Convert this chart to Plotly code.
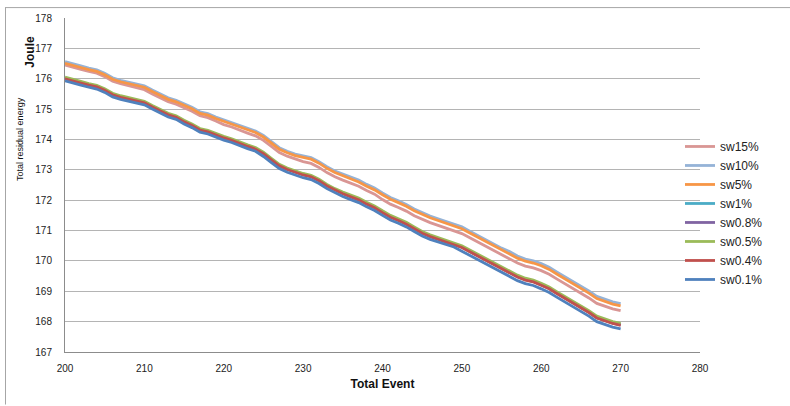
import plotly.graph_objects as go

# Event index (x axis)
events = list(range(200, 271))

# Total residual energy (Joule) per sleep/wake setting
sw15 = [176.45, 176.37, 176.31, 176.24, 176.18, 176.07, 175.92, 175.84, 175.78, 175.72,
        175.64, 175.50, 175.36, 175.24, 175.16, 175.05, 174.93, 174.78, 174.72, 174.61,
        174.49, 174.41, 174.30, 174.21, 174.12, 173.97, 173.77, 173.57, 173.45, 173.36,
        173.27, 173.21, 173.08, 172.91, 172.77, 172.66, 172.56, 172.46, 172.32, 172.20,
        172.02, 171.87, 171.76, 171.64, 171.49, 171.37, 171.26, 171.17, 171.08, 171.01,
        170.90, 170.76, 170.62, 170.48, 170.34, 170.20, 170.08, 169.93, 169.83, 169.77,
        169.68, 169.56, 169.40, 169.25, 169.10, 168.95, 168.78, 168.60, 168.50, 168.42,
        168.36]
sw10 = [176.56, 176.48, 176.42, 176.35, 176.29, 176.18, 176.03, 175.95, 175.89, 175.83,
        175.77, 175.63, 175.49, 175.37, 175.29, 175.18, 175.06, 174.91, 174.85, 174.74,
        174.65, 174.57, 174.46, 174.37, 174.28, 174.13, 173.93, 173.73, 173.61, 173.52,
        173.46, 173.40, 173.27, 173.10, 172.96, 172.86, 172.76, 172.66, 172.52, 172.40,
        172.24, 172.09, 171.98, 171.86, 171.71, 171.59, 171.48, 171.39, 171.30, 171.23,
        171.12, 170.98, 170.84, 170.70, 170.56, 170.42, 170.31, 170.16, 170.06, 170.00,
        169.91, 169.79, 169.63, 169.48, 169.33, 169.18, 169.01, 168.83, 168.73, 168.65,
        168.59]
sw5 = [176.51, 176.43, 176.37, 176.30, 176.24, 176.13, 175.98, 175.90, 175.84, 175.78,
       175.72, 175.58, 175.44, 175.32, 175.24, 175.13, 175.01, 174.86, 174.80, 174.69,
       174.60, 174.52, 174.41, 174.32, 174.23, 174.08, 173.88, 173.68, 173.56, 173.47,
       173.41, 173.35, 173.22, 173.05, 172.91, 172.80, 172.70, 172.60, 172.46, 172.34,
       172.18, 172.03, 171.92, 171.80, 171.65, 171.53, 171.42, 171.33, 171.24, 171.17,
       171.06, 170.92, 170.78, 170.64, 170.50, 170.36, 170.24, 170.09, 169.99, 169.93,
       169.84, 169.72, 169.56, 169.41, 169.26, 169.11, 168.94, 168.76, 168.66, 168.58,
       168.52]
sw1 = [176.02, 175.94, 175.88, 175.81, 175.75, 175.64, 175.49, 175.41, 175.35, 175.29,
       175.23, 175.09, 174.95, 174.83, 174.75, 174.60, 174.48, 174.33, 174.27, 174.16,
       174.07, 173.99, 173.88, 173.79, 173.70, 173.55, 173.35, 173.15, 173.03, 172.94,
       172.85, 172.79, 172.66, 172.49, 172.35, 172.23, 172.13, 172.03, 171.89, 171.77,
       171.61, 171.46, 171.35, 171.23, 171.08, 170.93, 170.82, 170.73, 170.64, 170.57,
       170.46, 170.32, 170.18, 170.04, 169.90, 169.76, 169.64, 169.49, 169.39, 169.33,
       169.22, 169.10, 168.94, 168.79, 168.64, 168.49, 168.32, 168.14, 168.04, 167.96,
       167.90]
sw08 = [176.01, 175.93, 175.87, 175.80, 175.74, 175.63, 175.48, 175.40, 175.34, 175.28,
        175.22, 175.08, 174.94, 174.82, 174.74, 174.59, 174.47, 174.32, 174.26, 174.15,
        174.06, 173.98, 173.87, 173.78, 173.69, 173.54, 173.34, 173.14, 173.02, 172.93,
        172.84, 172.78, 172.65, 172.48, 172.34, 172.22, 172.12, 172.02, 171.88, 171.76,
        171.60, 171.45, 171.34, 171.22, 171.07, 170.92, 170.81, 170.72, 170.63, 170.56,
        170.45, 170.31, 170.17, 170.03, 169.89, 169.75, 169.63, 169.48, 169.38, 169.32,
        169.21, 169.09, 168.93, 168.78, 168.63, 168.48, 168.31, 168.13, 168.03, 167.95,
        167.89]
sw05 = [176.05, 175.97, 175.91, 175.84, 175.78, 175.67, 175.52, 175.44, 175.38, 175.32,
        175.26, 175.12, 174.98, 174.86, 174.78, 174.63, 174.51, 174.36, 174.30, 174.19,
        174.10, 174.02, 173.91, 173.82, 173.73, 173.58, 173.38, 173.18, 173.06, 172.97,
        172.88, 172.82, 172.69, 172.52, 172.38, 172.27, 172.17, 172.07, 171.93, 171.81,
        171.65, 171.50, 171.39, 171.27, 171.12, 170.97, 170.86, 170.77, 170.68, 170.61,
        170.50, 170.36, 170.22, 170.08, 169.94, 169.80, 169.68, 169.53, 169.43, 169.37,
        169.26, 169.14, 168.98, 168.83, 168.68, 168.53, 168.36, 168.18, 168.08, 168.00,
        167.94]
sw04 = [176.00, 175.92, 175.86, 175.79, 175.73, 175.62, 175.47, 175.39, 175.33, 175.27,
        175.21, 175.07, 174.93, 174.81, 174.73, 174.58, 174.46, 174.31, 174.25, 174.14,
        174.05, 173.97, 173.86, 173.77, 173.68, 173.53, 173.33, 173.13, 173.01, 172.92,
        172.83, 172.77, 172.64, 172.47, 172.33, 172.21, 172.11, 172.01, 171.87, 171.75,
        171.59, 171.44, 171.33, 171.21, 171.06, 170.91, 170.80, 170.71, 170.62, 170.55,
        170.44, 170.30, 170.16, 170.02, 169.88, 169.74, 169.62, 169.47, 169.37, 169.31,
        169.20, 169.08, 168.92, 168.77, 168.62, 168.47, 168.30, 168.12, 168.02, 167.94,
        167.88]
sw01 = [175.93, 175.85, 175.79, 175.72, 175.66, 175.55, 175.40, 175.32, 175.26, 175.20,
        175.14, 175.00, 174.86, 174.74, 174.66, 174.51, 174.39, 174.24, 174.18, 174.07,
        173.98, 173.90, 173.79, 173.70, 173.61, 173.44, 173.24, 173.04, 172.92, 172.83,
        172.74, 172.68, 172.55, 172.38, 172.24, 172.12, 172.02, 171.92, 171.78, 171.66,
        171.50, 171.35, 171.24, 171.12, 170.97, 170.82, 170.71, 170.62, 170.53, 170.46,
        170.32, 170.18, 170.04, 169.90, 169.76, 169.62, 169.50, 169.35, 169.25, 169.19,
        169.08, 168.96, 168.80, 168.65, 168.50, 168.35, 168.18, 168.00, 167.90, 167.82,
        167.76]

series_names = ["sw15%", "sw10%", "sw5%", "sw1%", "sw0.8%", "sw0.5%", "sw0.4%", "sw0.1%"]
series_values = [sw15, sw10, sw5, sw1, sw08, sw05, sw04, sw01]
series_colors = ["#D99694", "#95B3D7", "#F79646", "#4BACC6",
                 "#8064A2", "#9BBB59", "#C0504D", "#4F81BD"]

x_ticks = [200, 210, 220, 230, 240, 250, 260, 270, 280]
y_ticks = list(range(167, 179))

FONT = "Liberation Sans, Arial, sans-serif"

fig = go.Figure()
for name, vals, col in zip(series_names, series_values, series_colors):
    fig.add_trace(go.Scatter(x=events, y=vals, name=name, mode="lines",
                             line=dict(color=col, width=2.8)))

# plot area in pixels: x 65..700, y 15..352
L, R, T, B = 65, 90, 15, 54
W, H = 790, 406
pw, ph = W - L - R, H - T - B

def px_x(p):
    return (p - L) / pw

def px_y(p):
    return (H - B - p) / ph

fig.update_layout(
    width=W, height=H,
    margin=dict(l=L, r=R, t=T, b=B, pad=0),
    paper_bgcolor="white", plot_bgcolor="white",
    font=dict(family=FONT, size=10, color="#222222"),
    showlegend=True,
    legend=dict(x=px_x(680), y=px_y(130), xanchor="left", yanchor="top",
                font=dict(family=FONT, size=12, color="#222222"),
                bgcolor="rgba(0,0,0,0)", tracegroupgap=0, itemwidth=30),
    xaxis=dict(range=[200, 280], tickvals=x_ticks, ticktext=[str(v) for v in x_ticks],
               showgrid=False, zeroline=False, showline=True, linecolor="#8c8c8c",
               linewidth=1, ticks="", ticklen=0, ticklabelstandoff=7,
               tickfont=dict(family=FONT, size=10, color="#222222"),
               title=dict(text="<b>Total Event</b>", standoff=6,
                          font=dict(family=FONT, size=12, color="#111111"))),
    yaxis=dict(range=[167, 178], tickvals=y_ticks, ticktext=[str(v) for v in y_ticks],
               showgrid=True, gridcolor="#b4b4b4", gridwidth=1,
               zeroline=False, showline=True, linecolor="#8c8c8c", linewidth=1,
               ticks="", ticklen=0, ticklabelstandoff=10,
               tickfont=dict(family=FONT, size=10, color="#222222")),
)

# axis titles on the left side
fig.add_annotation(text="<b>Joule</b>", xref="paper", yref="paper",
                   x=px_x(30), y=px_y(49), xanchor="center", yanchor="middle",
                   textangle=-90, showarrow=False,
                   font=dict(family=FONT, size=12, color="#111111"))
fig.add_annotation(text="Total residual energy", xref="paper", yref="paper",
                   x=px_x(20), y=px_y(137), xanchor="center", yanchor="middle",
                   textangle=-90, showarrow=False,
                   font=dict(family=FONT, size=9, color="#111111"))

# chart frame lines (left and top)
fig.add_shape(type="line", xref="paper", yref="paper",
              x0=px_x(5.5), x1=px_x(5.5), y0=px_y(4), y1=px_y(405),
              line=dict(color="#a6a6a6", width=1))
fig.add_shape(type="line", xref="paper", yref="paper",
              x0=px_x(5.5), x1=px_x(790), y0=px_y(4.5), y1=px_y(4.5),
              line=dict(color="#a6a6a6", width=1))

fig.write_html("out.html")
